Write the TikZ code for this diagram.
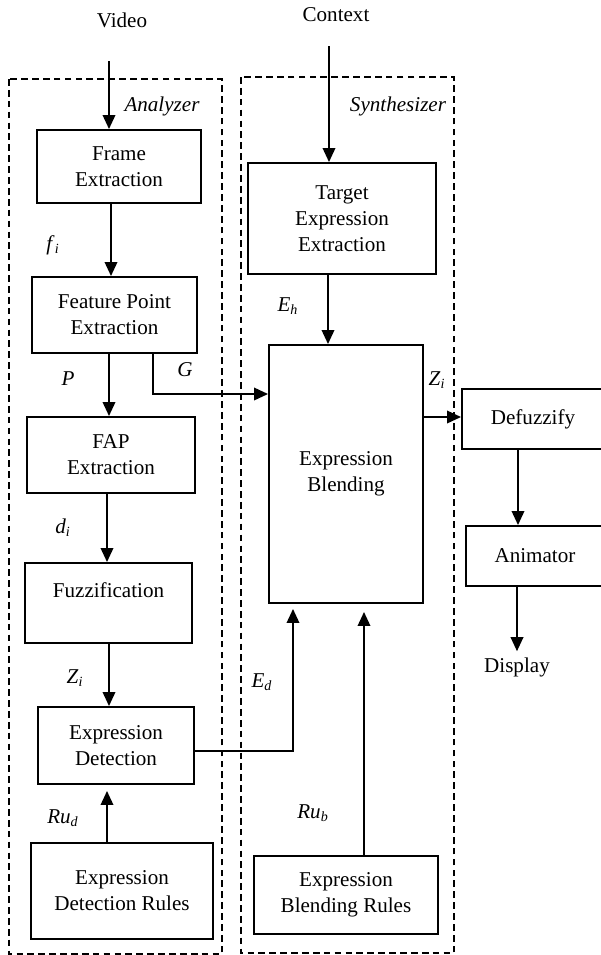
\documentclass[tikz,border=0pt]{standalone}
\usepackage{fontspec}
\setmainfont{Liberation Serif}
\usetikzlibrary{arrows.meta,positioning,calc}

% italic signal name with italic subscript
\newcommand{\sigvar}[2]{\textit{#1}\textsubscript{\textit{#2}}}

\tikzset{
    block/.style={
        draw,
        line width=1.1pt,
        align=center,
        inner sep=2pt,
        font=\fontsize{12}{14.8}\selectfont
    },
    group/.style={
        draw,
        line width=1pt,
        dash pattern=on 3.8pt off 2.4pt
    },
    sigLabel/.style={font=\fontsize{12}{14}\selectfont},
    plainText/.style={font=\fontsize{12}{14}\selectfont},
}

\begin{document}
\begin{tikzpicture}[
    arrow/.style={-{Triangle[length=0.28cm,width=0.25cm]}, line width=1.1pt}
]
    \useasboundingbox (0,0) rectangle (12,-19.1);

    % Analyzer and Synthesizer groups
    \draw[group] (0.18,-1.58) rectangle (4.44,-19.08);
    \draw[group] (4.82,-1.54) rectangle (9.08,-19.06);
    \node[plainText, font=\fontsize{12}{14}\itshape] (analyzer) at (3.24,-2.12) {Analyzer};
    \node[plainText, font=\fontsize{12}{14}\itshape] (synth) at (7.96,-2.12) {Synthesizer};

    % Inputs
    \node[plainText] (video) at (2.44,-0.40) {Video};
    \node[plainText] (context) at (6.72,-0.30) {Context};
    \coordinate (vin) at (2.18,-1.22);
    \coordinate (cin) at (6.58,-0.92);

    % Analyzer blocks
    \node[block, minimum width=3.28cm, minimum height=1.46cm] (frame) at (2.38,-3.33) {Frame\\Extraction};
    \node[block, minimum width=3.30cm, minimum height=1.52cm] (feat) at (2.29,-6.30) {Feature Point\\Extraction};
    \node[block, minimum width=3.36cm, minimum height=1.52cm] (fap) at (2.22,-9.10) {FAP\\Extraction};
    \node[block, minimum width=3.34cm, minimum height=1.60cm] (fuzz) at (2.17,-12.06) {Fuzzification\\\mbox{}};
    \node[block, minimum width=3.12cm, minimum height=1.54cm] (detect) at (2.32,-14.91) {Expression\\Detection};
    \node[block, minimum width=3.64cm, minimum height=1.92cm] (drules) at (2.44,-17.82) {Expression\\Detection Rules};

    % Synthesizer blocks
    \node[block, minimum width=3.76cm, minimum height=2.22cm] (target) at (6.84,-4.37) {Target\\Expression\\Extraction};
    \node[block, minimum width=3.08cm, minimum height=5.16cm] (blend) at (6.92,-9.48) {Expression\\Blending};
    \node[block, minimum width=3.68cm, minimum height=1.56cm] (brules) at (6.92,-17.90) {Expression\\Blending Rules};

    % Output side
    \node[block, minimum width=2.84cm, minimum height=1.20cm] (defuzz) at (10.66,-8.38) {Defuzzify};
    \node[block, minimum width=2.76cm, minimum height=1.20cm] (anim) at (10.70,-11.12) {Animator};
    \node[plainText] (display) at (10.34,-13.34) {Display};

    % Analyzer flow
    \draw[arrow] (vin) -- (vin |- frame.north);
    \draw[arrow] ([xshift=-0.16cm]frame.south) -- ([xshift=-0.16cm]frame.south |- feat.north);
    \draw[arrow] ([xshift=-0.11cm]feat.south) -- ([xshift=-0.11cm]feat.south |- fap.north);
    \draw[arrow] ([xshift=-0.08cm]fap.south) -- ([xshift=-0.08cm]fap.south |- fuzz.north);
    \draw[arrow] ([xshift=0.01cm]fuzz.south) -- ([xshift=0.01cm]fuzz.south |- detect.north);
    \draw[arrow, shorten >=0.12cm] ([xshift=-0.30cm]drules.north) -- ([xshift=-0.30cm]drules.north |- detect.south);

    % Into the blender
    \draw[arrow] ([xshift=0.77cm]feat.south) |- ([yshift=1.6cm]blend.west);
    \draw[arrow, shorten >=0.1cm] ([yshift=-0.11cm]detect.east) -| ([xshift=-1.06cm]blend.south);
    \draw[arrow, shorten >=0.16cm] ([xshift=0.36cm]brules.north) -- ([xshift=0.36cm]blend.south);
    \draw[arrow] (cin) -- (cin |- target.north);
    \draw[arrow] ([xshift=-0.28cm]target.south) -- ([xshift=-0.28cm]target.south |- blend.north);

    % Output chain
    \draw[arrow] ([yshift=1.14cm]blend.east) -- ([yshift=1.14cm]blend.east -| defuzz.west);
    \draw[arrow] ([xshift=-0.30cm]defuzz.south) -- ([xshift=-0.30cm]defuzz.south |- anim.north);
    \draw[arrow] (display.north |- anim.south) -- (display.north);

    % Signal labels
    \node[sigLabel] (lf) at (1.06,-4.90) {\sigvar{f}{i}};
    \node[sigLabel] (lp) at (1.36,-7.58) {\textit{P}};
    \node[sigLabel] (lg) at (3.70,-7.40) {\textit{G}};
    \node[sigLabel] (ld) at (1.26,-10.56) {\sigvar{d}{i}};
    \node[sigLabel] (lz) at (1.50,-13.56) {\sigvar{Z}{i}};
    \node[sigLabel] (lrd) at (1.26,-16.36) {\sigvar{Ru}{d}};
    \node[sigLabel] (leh) at (5.76,-6.12) {\sigvar{E}{h}};
    \node[sigLabel] (lzo) at (8.74,-7.60) {\sigvar{Z}{i}};
    \node[sigLabel] (led) at (5.24,-13.64) {\sigvar{E}{d}};
    \node[sigLabel] (lrb) at (6.26,-16.26) {\sigvar{Ru}{b}};
\end{tikzpicture}
\end{document}
